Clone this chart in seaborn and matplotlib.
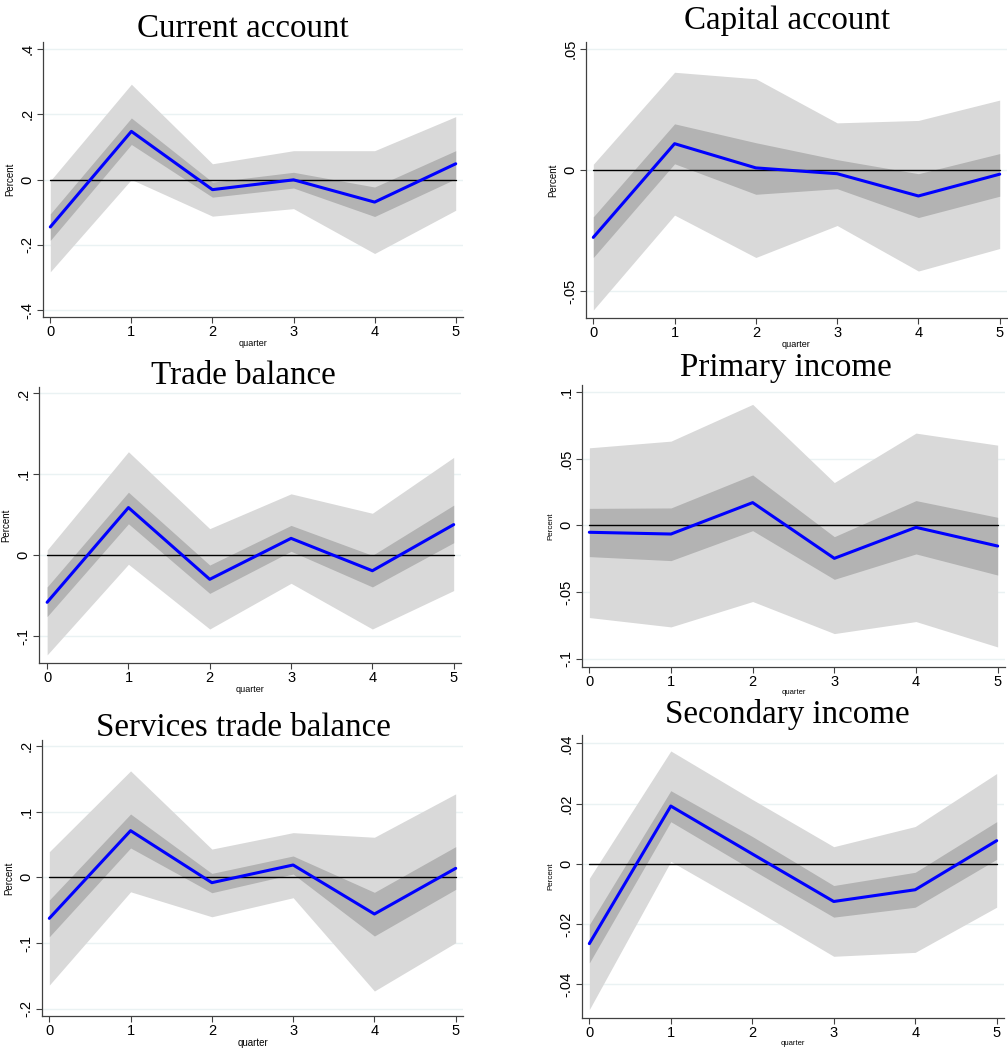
import matplotlib
matplotlib.use("Agg")
import matplotlib.pyplot as plt
import numpy as np
import pandas as pd
import seaborn as sns

# horizon
quarters = [0, 1, 2, 3, 4, 5]

# Current account
ca_irf = [-0.145, 0.147, -0.031, -0.001, -0.069, 0.048]
ca_lo90 = [-0.282, 0.000, -0.112, -0.089, -0.226, -0.094]
ca_hi90 = [-0.004, 0.291, 0.048, 0.088, 0.088, 0.192]
ca_lo68 = [-0.186, 0.107, -0.054, -0.026, -0.113, 0.002]
ca_hi68 = [-0.105, 0.188, -0.008, 0.022, -0.023, 0.088]

# Capital account
ka_irf = [-0.0277, 0.0110, 0.0010, -0.0014, -0.0106, -0.0016]
ka_lo90 = [-0.0577, -0.0185, -0.0360, -0.0228, -0.0416, -0.0323]
ka_hi90 = [0.0025, 0.0405, 0.0378, 0.0196, 0.0206, 0.0290]
ka_lo68 = [-0.0360, 0.0027, -0.0099, -0.0076, -0.0195, -0.0107]
ka_hi68 = [-0.0192, 0.0192, 0.0114, 0.0044, -0.0014, 0.0069]

# Trade balance
tb_irf = [-0.058, 0.059, -0.0296, 0.021, -0.019, 0.038]
tb_lo90 = [-0.123, -0.011, -0.091, -0.0345, -0.091, -0.0435]
tb_hi90 = [0.0066, 0.128, 0.033, 0.076, 0.052, 0.121]
tb_lo68 = [-0.0756, 0.039, -0.047, 0.005, -0.039, 0.0156]
tb_hi68 = [-0.039, 0.078, -0.012, 0.037, 0.000, 0.062]

# Primary income
pi_irf = [-0.0052, -0.0065, 0.017, -0.0247, -0.0015, -0.0155]
pi_lo90 = [-0.069, -0.076, -0.057, -0.081, -0.072, -0.091]
pi_hi90 = [0.058, 0.063, 0.0905, 0.032, 0.069, 0.060]
pi_lo68 = [-0.0234, -0.0264, -0.004, -0.0404, -0.0214, -0.0372]
pi_hi68 = [0.0127, 0.013, 0.0377, -0.0085, 0.0185, 0.006]

# Services trade balance
sb_irf = [-0.0624, 0.071, -0.0081, 0.0188, -0.0558, 0.0137]
sb_lo90 = [-0.164, -0.022, -0.060, -0.031, -0.173, -0.0995]
sb_hi90 = [0.039, 0.162, 0.043, 0.068, 0.061, 0.127]
sb_lo68 = [-0.0904, 0.0447, -0.0234, 0.005, -0.0893, -0.0183]
sb_hi68 = [-0.0345, 0.0964, 0.006, 0.0325, -0.0228, 0.0467]

# Secondary income
si_irf = [-0.0265, 0.0192, 0.0033, -0.0125, -0.0086, 0.0077]
si_lo90 = [-0.0484, 0.0008, -0.0147, -0.0307, -0.0294, -0.0144]
si_hi90 = [-0.0048, 0.0375, 0.0214, 0.0057, 0.0124, 0.030]
si_lo68 = [-0.0329, 0.014, -0.002, -0.0177, -0.0144, 0.0015]
si_hi68 = [-0.0202, 0.0243, 0.0091, -0.0072, -0.0028, 0.014]

titles = ["Current account", "Capital account", "Trade balance",
          "Primary income", "Services trade balance", "Secondary income"]
yticks = [
    [-0.4, -0.2, 0, 0.2, 0.4],
    [-0.05, 0, 0.05],
    [-0.1, 0, 0.1, 0.2],
    [-0.1, -0.05, 0, 0.05, 0.1],
    [-0.2, -0.1, 0, 0.1, 0.2],
    [-0.04, -0.02, 0, 0.02, 0.04],
]

series = [
    (ca_irf, ca_lo90, ca_hi90, ca_lo68, ca_hi68),
    (ka_irf, ka_lo90, ka_hi90, ka_lo68, ka_hi68),
    (tb_irf, tb_lo90, tb_hi90, tb_lo68, tb_hi68),
    (pi_irf, pi_lo90, pi_hi90, pi_lo68, pi_hi68),
    (sb_irf, sb_lo90, sb_hi90, sb_lo68, sb_hi68),
    (si_irf, si_lo90, si_hi90, si_lo68, si_hi68),
]

W, H = 1008, 1048
# axes boxes in pixels: left, top, right, bottom
boxes = [
    (43, 42, 463, 317),
    (586, 42, 1007, 318),
    (39, 387, 461, 663),
    (582, 385, 1005, 667),
    (42, 740, 463, 1016),
    (582, 735, 1004, 1018),
]
ylims = [(-0.42, 0.42), (-0.061, 0.053), (-0.133, 0.208),
         (-0.106, 0.105), (-0.211, 0.209), (-0.0512, 0.0428)]
xlims = [(-0.09, 5.09), (-0.09, 5.09), (-0.1, 5.09),
         (-0.09, 5.09), (-0.09, 5.09), (-0.09, 5.09)]
# title centre x, baseline y (pixels)
title_pos = [(243, 37), (787, 29), (243, 384), (786, 376), (243, 736), (787, 723)]
percent_size = [7, 7, 7, 5.8, 7, 5.8]
quarter_size = [6.5, 6.5, 6.5, 5.5, 7, 5.5]


def stata_fmt(v):
    if abs(v) < 1e-12:
        return "0"
    s = f"{v:g}"
    return s.replace("0.", ".")


sns.set_theme(style="white")
plt.rcParams["font.family"] = ["Liberation Sans", "DejaVu Sans"]
plt.rcParams["text.color"] = "black"
plt.rcParams["axes.labelcolor"] = "black"
plt.rcParams["xtick.color"] = "black"
plt.rcParams["ytick.color"] = "black"

fig = plt.figure(figsize=(W / 100, H / 100), dpi=100)
fig.patch.set_facecolor("white")

for i, (irf, lo90, hi90, lo68, hi68) in enumerate(series):
    l, t, r, b = boxes[i]
    ax = fig.add_axes([l / W, 1 - b / H, (r - l) / W, (b - t) / H])
    df = pd.DataFrame({"quarter": quarters, "irf": irf})

    for yt in yticks[i]:
        ax.axhline(yt, color="#EAF2F3", lw=1, zorder=0)
    ax.fill_between(quarters, lo90, hi90, color="#D9D9D9", lw=0, zorder=1)
    ax.fill_between(quarters, lo68, hi68, color="#B3B3B3", lw=0, zorder=2)
    ax.plot([0, 5], [0, 0], color="black", lw=1, zorder=3)
    sns.lineplot(data=df, x="quarter", y="irf", color="#0000FF", lw=2.2, ax=ax, zorder=4)

    ax.set_xlim(*xlims[i])
    ax.set_ylim(*ylims[i])
    ax.set_xticks(quarters)
    ax.set_xticklabels([str(q) for q in quarters], fontsize=10.5)
    ax.set_yticks(yticks[i])
    ax.set_yticklabels([stata_fmt(v) for v in yticks[i]], fontsize=10.5, rotation=90, va="center")
    ax.set_xlabel("quarter", fontsize=quarter_size[i], labelpad=0)
    ax.set_ylabel("Percent", fontsize=percent_size[i], labelpad=4)
    ax.tick_params(axis="both", direction="out", length=4, width=0.8, color="#404040", pad=2,
                   bottom=True, left=True)
    for side in ["top", "right"]:
        ax.spines[side].set_visible(False)
    for side in ["left", "bottom"]:
        ax.spines[side].set_color("#404040")
        ax.spines[side].set_linewidth(0.9)
    ax.set_facecolor("white")

    cx, by = title_pos[i]
    fig.text(cx / W, 1 - by / H, titles[i], ha="center", va="baseline", color="black",
             fontsize=23.8, family=["Liberation Serif", "DejaVu Serif"])

fig.savefig("out.png", dpi=100)
